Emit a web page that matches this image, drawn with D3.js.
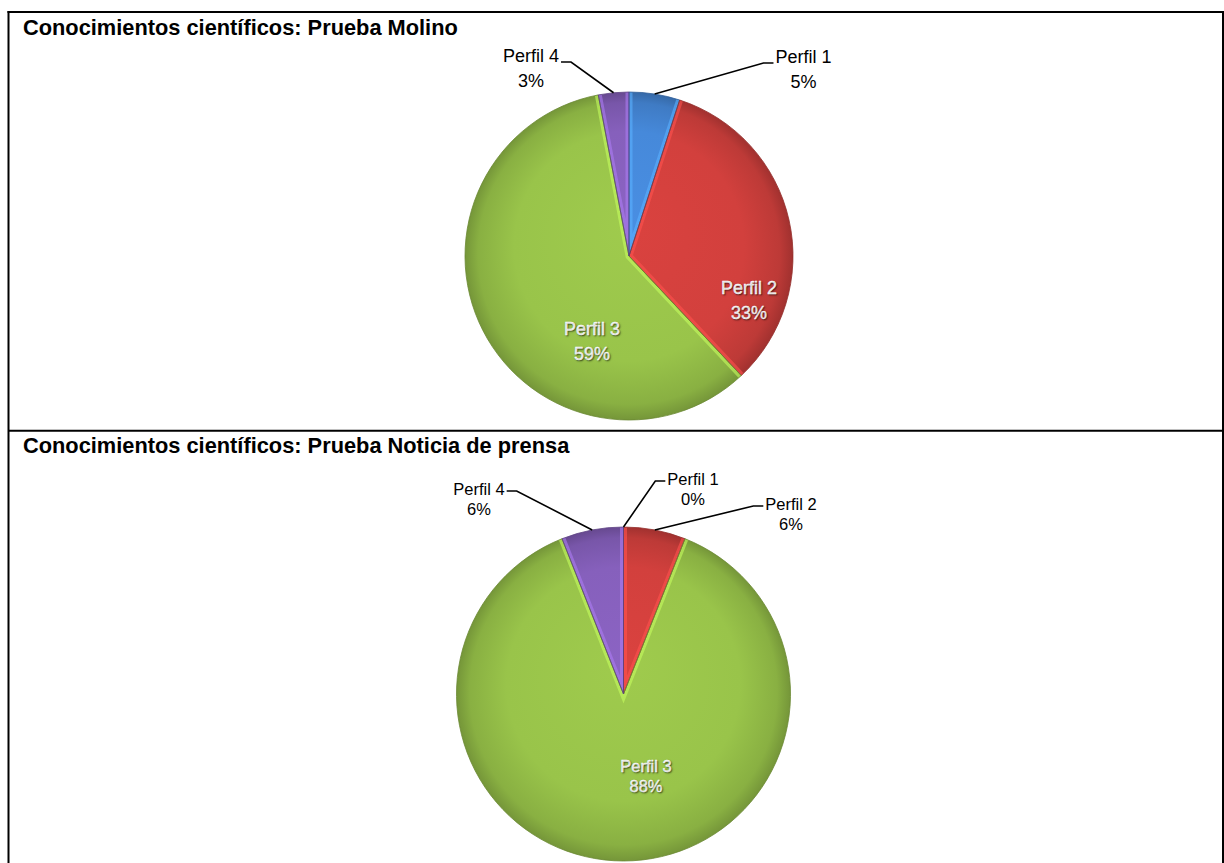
<!DOCTYPE html>
<html>
<head>
<meta charset="utf-8">
<script src="https://cdn.jsdelivr.net/npm/d3@7"></script>
<style>
  body { margin: 0; background: #fff; }
  text { font-family: "Liberation Sans", Arial, sans-serif; }
  .title { font-weight: bold; }
  .inside { fill: #fff; stroke: #fff; stroke-width: 0.35px; text-shadow: 1px 1px 1.5px rgba(0,0,0,0.55); }
</style>
</head>
<body>
<div id="chart"></div>
<script>
width = 1224;
height = 863;

//////// Data ////////
const titles = ["Conocimientos científicos: Prueba Molino",
                "Conocimientos científicos: Prueba Noticia de prensa"];
const categories = ["Perfil 1", "Perfil 2", "Perfil 3", "Perfil 4"];
const molinoValues = [5, 33, 59, 3];
const noticiaValues = [0, 6, 88, 6];

const colors = ["#4689da", "#d2403d", "#99c44a", "#8660bc"];

//////// Layout (positions only) ////////
// label offsets are relative to the pie centre: [dx of label centre, dy of first baseline]
const panels = [
    {values: molinoValues, titleY: 35, cx: 629, cy: 256, r: 164, font: 18, lineH: 25, leaderDy: 0,
     labels: [[174.5, -193], [120, 38], [-37, 79], [-98, -194]],
     inside: [false, true, true, false]},
    {values: noticiaValues, titleY: 453, cx: 623.5, cy: 694, r: 167, font: 16.5, lineH: 20, leaderDy: -4,
     labels: [[69.5, -209], [167.5, -184], [22.5, 78], [-144.5, -199]],
     inside: [false, false, true, false]}
];

const svg = d3.select("#chart").append("svg")
    .attr("width", width)
    .attr("height", height);

const defs = svg.append("defs");

//////// Frame of the table ////////
const frame = svg.append("g").attr("stroke", "#000").attr("stroke-width", 2);
frame.append("line").attr("x1", 7.5).attr("x2", width).attr("y1", 12).attr("y2", 12);
frame.append("line").attr("x1", 8.5).attr("x2", 8.5).attr("y1", 11).attr("y2", height);
frame.append("line").attr("x1", 1223).attr("x2", 1223).attr("y1", 11).attr("y2", height);
frame.append("line").attr("x1", 8.5).attr("x2", width).attr("y1", 430.7).attr("y2", 430.7);

const pie = d3.pie().sort(null).value(d => d.value);

panels.forEach((p, pi) => {

    svg.append("text")
        .attr("class", "title")
        .attr("x", 23)
        .attr("y", p.titleY)
        .style("font-size", "21.8px")
        .text(titles[pi]);

    const data = categories.map((c, i) => ({cat: c, value: p.values[i], i: i}));
    const arcs = pie(data);
    const arc = d3.arc().innerRadius(0).outerRadius(p.r);

    // gradients per slice colour
    colors.forEach((col, i) => {
        const g = defs.append("radialGradient")
            .attr("id", `grad${pi}_${i}`)
            .attr("gradientUnits", "userSpaceOnUse")
            .attr("cx", 0).attr("cy", 0).attr("r", p.r)
            .attr("fx", 0).attr("fy", -p.r * 0.2);
        g.append("stop").attr("offset", "0%").attr("stop-color", d3.color(col).brighter(0.1));
        g.append("stop").attr("offset", "70%").attr("stop-color", col);
        g.append("stop").attr("offset", "92%").attr("stop-color", d3.color(col).darker(0.3));
        g.append("stop").attr("offset", "100%").attr("stop-color", d3.color(col).darker(0.75));
    });

    const gPie = svg.append("g").attr("transform", `translate(${p.cx},${p.cy})`);

    const slices = arcs.filter(d => d.value > 0);

    slices.forEach(d => {
        defs.append("clipPath").attr("id", `clip${pi}_${d.data.i}`)
            .append("path").attr("d", arc(d));
    });

    gPie.selectAll("path.slice")
        .data(slices)
        .join("path")
        .attr("class", "slice")
        .attr("d", arc)
        .attr("fill", d => `url(#grad${pi}_${d.data.i})`);

    // soft bevel along the radial edges of each slice
    const edgePt = a => [Math.sin(a) * p.r, -Math.cos(a) * p.r];
    gPie.selectAll("path.bevel")
        .data(slices)
        .join("path")
        .attr("class", "bevel")
        .attr("d", d => d3.line()([edgePt(d.startAngle), [0, 0], edgePt(d.endAngle)]))
        .attr("clip-path", d => `url(#clip${pi}_${d.data.i})`)
        .attr("fill", "none")
        .attr("stroke", d => d3.color(colors[d.data.i]).brighter(0.7))
        .attr("stroke-opacity", 0.6)
        .attr("stroke-width", 7);

    gPie.selectAll("path.edge")
        .data(slices)
        .join("path")
        .attr("class", "edge")
        .attr("d", arc)
        .attr("fill", "none")
        .attr("stroke", d => d3.color(colors[d.data.i]).darker(1))
        .attr("stroke-width", 0.8);

    //////// Labels ////////
    arcs.forEach(d => {
        const i = d.data.i;
        const [dx, dy] = p.labels[i];
        const inside = p.inside[i];

        const t = gPie.append("text")
            .attr("class", inside ? "inside" : "outside")
            .attr("text-anchor", "middle")
            .style("font-size", p.font + "px")
            .attr("fill", inside ? "#fff" : "#000");
        t.append("tspan").attr("x", dx).attr("y", dy).text(d.data.cat);
        t.append("tspan").attr("x", dx).attr("y", dy + p.lineH).text(d3.format(".0%")(d.value / 100));

        if (!inside) {
            // leader line from the middle of the slice edge to the label
            const mid = (d.startAngle + d.endAngle) / 2;
            const [ex, ey] = edgePt(mid);
            const w = t.select("tspan").node().getComputedTextLength();
            const right = dx > ex;
            const endX = right ? dx - w / 2 - 2 : dx + w / 2 + 2;
            const bendX = right ? endX - 10 : endX + 10;
            const ly = dy + p.leaderDy;
            gPie.append("path")
                .attr("d", d3.line()([[ex, ey], [bendX, ly], [endX, ly]]))
                .attr("fill", "none")
                .attr("stroke", "#000")
                .attr("stroke-width", 1.6);
        }
    });
});
</script>
</body>
</html>
